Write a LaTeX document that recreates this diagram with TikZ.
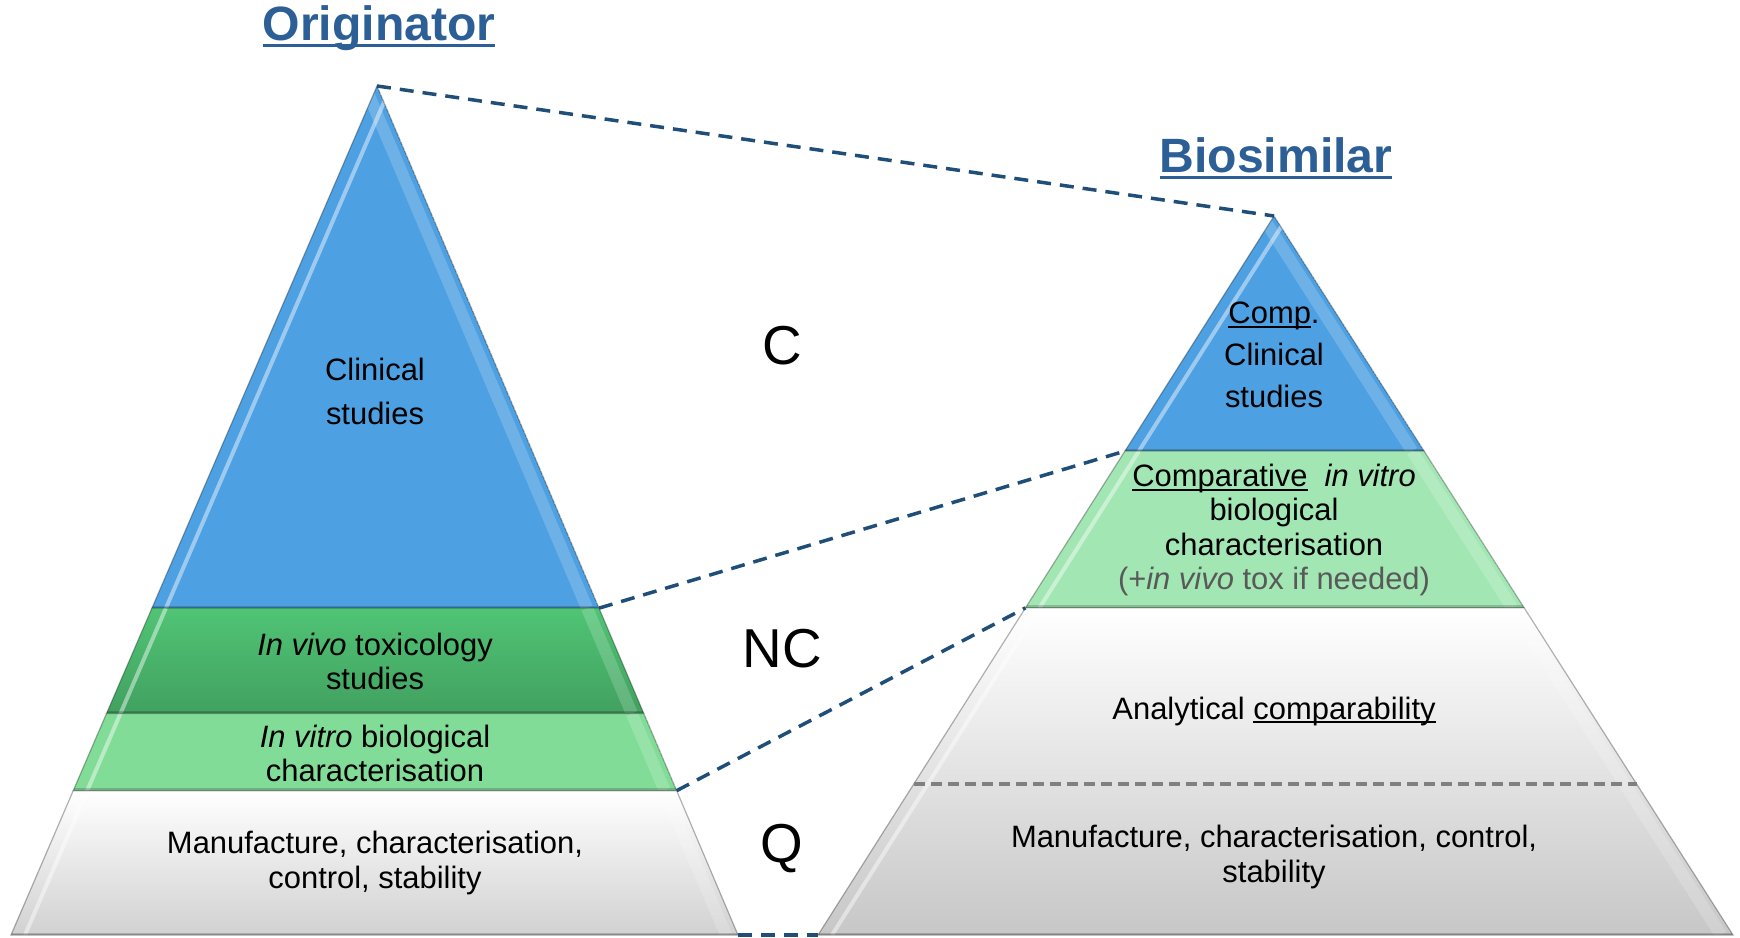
\documentclass[tikz,border=0pt]{standalone}
\usepackage{fontspec}
\setmainfont{Liberation Sans}
\usetikzlibrary{calc}

\definecolor{titleblue}{HTML}{2D5F97}
\definecolor{linkblue}{HTML}{1F4E79}
\definecolor{clinblue}{HTML}{4DA0E1}
\definecolor{toxgreen}{HTML}{50C475}
\definecolor{vitrogreen}{HTML}{80DC96}
\definecolor{compgreen}{HTML}{A2E7B3}
\definecolor{notegray}{HTML}{595959}

% underline that keeps close to the baseline
\newcommand\ulin[1]{\setbox0\hbox{#1}\rlap{\rule[-0.13em]{\wd0}{0.06em}}\box0\relax}

% one bevelled slice of a pyramid: top left, top right, bottom right, bottom left, fill
\newcommand\pyrlayer[5]{%
   \begin{scope}
      \clip (#1) -- (#2) -- (#3) -- (#4) -- cycle;
      \path [#5] (#1) -- (#2) -- (#3) -- (#4) -- cycle;
      \draw [hilite] ($(#1)+(14,0)$) -- ($(#4)+(14,0)$);
      \draw [sheen] ($(#2)+(-12,0)$) -- ($(#3)+(-12,0)$);
      \draw [groove] (#4) -- (#3);
   \end{scope}
   \draw [rim] (#1) -- (#2) -- (#3) -- (#4) -- cycle;
}

\tikzset{
   body/.style={align=center, font=\fontsize{8.8}{9.7}\selectfont},
   headline/.style={font=\fontsize{13.7}{16}\selectfont\bfseries, text=titleblue},
   tier/.style={font=\fontsize{15.6}{18}\selectfont},
   link/.style={draw=linkblue, line width=0.35mm, dash pattern=on 1.4mm off 0.9mm},
   divider/.style={draw=black!50, line width=0.4mm, dash pattern=on 1.1mm off 0.6mm},
   rim/.style={draw=black, draw opacity=0.3, line width=0.12mm},
   hilite/.style={draw=white, opacity=0.45, line width=0.4mm},
   sheen/.style={draw=white, opacity=0.18, line width=1.2mm},
   groove/.style={draw=black, opacity=0.18, line width=0.5mm},
}

\begin{document}
\begin{tikzpicture}[x=0.1mm, y=-0.1mm]

   \useasboundingbox (0,0) rectangle (1740,938);

   % originator pyramid
   \coordinate (OA) at (377,86);
   \coordinate (OL) at (11,935);
   \coordinate (OR) at (738,935);
   \coordinate (O1l) at ($(OA)!0.615!(OL)$);
   \coordinate (O1r) at ($(OA)!0.615!(OR)$);
   \coordinate (O2l) at ($(OA)!0.739!(OL)$);
   \coordinate (O2r) at ($(OA)!0.739!(OR)$);
   \coordinate (O3l) at ($(OA)!0.830!(OL)$);
   \coordinate (O3r) at ($(OA)!0.830!(OR)$);

   \pyrlayer{OA}{OA}{O1r}{O1l}{fill=clinblue}
   \pyrlayer{O1l}{O1r}{O2r}{O2l}{top color=toxgreen, bottom color=toxgreen!82!black}
   \pyrlayer{O2l}{O2r}{O3r}{O3l}{fill=vitrogreen}
   \pyrlayer{O3l}{O3r}{OR}{OL}{top color=white, bottom color=black!18}

   % biosimilar pyramid
   \coordinate (BA) at (1274,216);
   \coordinate (BL) at (818,935);
   \coordinate (BR) at (1733,935);
   \coordinate (B1l) at ($(BA)!0.327!(BL)$);
   \coordinate (B1r) at ($(BA)!0.327!(BR)$);
   \coordinate (B2l) at ($(BA)!0.545!(BL)$);
   \coordinate (B2r) at ($(BA)!0.545!(BR)$);
   \coordinate (B3l) at ($(BA)!0.79!(BL)$);
   \coordinate (B3r) at ($(BA)!0.79!(BR)$);

   \pyrlayer{BA}{BA}{B1r}{B1l}{fill=clinblue}
   \pyrlayer{B1l}{B1r}{B2r}{B2l}{fill=compgreen}
   \pyrlayer{B2l}{B2r}{BR}{BL}{top color=white, bottom color=black!22}

   \draw [divider] (B3l) -- (B3r);

   % links between the pyramids
   \draw [link] (OA) -- (BA);
   \draw [link] (O1r) -- (B1l);
   \draw [link] (O3r) -- (B2l);
   \draw [link] (OR) -- (BL);

   % titles
   \node [headline] (otitle) at (379,28) {\ulin{Originator}};
   \node [headline] (btitle) at (1276,158) {\ulin{Biosimilar}};

   % tiers
   \node [tier] (lc) at (782,346) {C};
   \node [tier] (lnc) at (782,649) {NC};
   \node [tier] (lq) at (782,849) {Q};

   % texts of the originator
   \node [body, font=\fontsize{8.8}{12.5}\selectfont] (oclin) at (375,391)
      {Clinical\\studies};
   \node [body] (otox) at (375,661) {\textit{In vivo} toxicology\\studies};
   \node [body] (ovitro) at (375,753) {\textit{In vitro} biological\\characterisation};
   \node [body] (oqual) at (375,863) {Manufacture, characterisation,\\control, stability};

   % texts of the biosimilar
   \node [body, font=\fontsize{8.8}{11.9}\selectfont] (bclin) at (1274,355)
      {\ulin{Comp}.\\Clinical\\studies};
   \node [body] (bvitro) at (1274,530)
      {\ulin{Comparative}\hspace{0.55em}\textit{in vitro}\\biological\\characterisation\\
       \textcolor{notegray}{(+\textit{in vivo} tox if needed)}};
   \node [body] (banal) at (1274,711) {Analytical \ulin{comparability}};
   \node [body] (bqual) at (1274,857) {Manufacture, characterisation, control,\\stability};

\end{tikzpicture}
\end{document}
